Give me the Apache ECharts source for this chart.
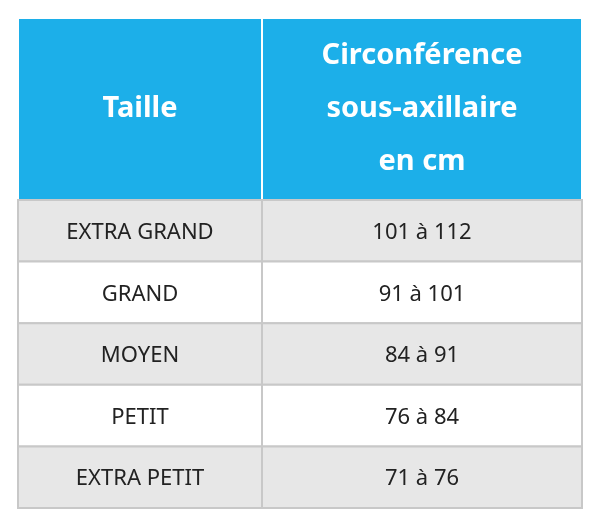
<!DOCTYPE html>
<html><head><meta charset="utf-8">
<script src="https://cdn.jsdelivr.net/npm/echarts@6/dist/echarts.min.js"></script>
<style>html,body{margin:0;padding:0;background:#fff}#c{width:600px;height:517px}</style>
</head><body><div id="c"></div>
<script>
const headers = ['Taille', 'Circonférence\nsous-axillaire\nen cm'];
const sizes = ['EXTRA GRAND', 'GRAND', 'MOYEN', 'PETIT', 'EXTRA PETIT'];
const ranges = ['101 à 112', '91 à 101', '84 à 91', '76 à 84', '71 à 76'];

const L = 18, R = 582, T = 18, HB = 200, B = 508, CX = 262;
const rowH = (B - HB) / sizes.length;
const chart = echarts.init(document.getElementById('c'));
const data = [[headers[0], headers[1]]].concat(sizes.map((s, i) => [s, ranges[i]]));
chart.setOption({
  animation: false,
  series: [{
    type: 'custom',
    coordinateSystem: 'none',
    data: data.map((d, i) => [i]),
    renderItem: function (params, api) {
      const i = api.value(0);
      const row = data[i];
      const isH = i === 0;
      const y0 = isH ? T : HB + (i - 1) * rowH;
      const h = isH ? HB - T : rowH;
      const fill = isH ? '#1CAFE9' : ((i % 2 === 1) ? '#E7E7E7' : '#FFFFFF');
      const font = isH ? 'bold 29px "Noto Sans"' : '22px "Noto Sans"';
      const color = isH ? '#FFFFFF' : '#222222';
      const stroke = isH ? '#FFFFFF' : '#C8C8C8';
      const children = [
        {type: 'rect', shape: {x: L, y: y0, width: CX - L, height: h}, style: {fill: fill, stroke: stroke, lineWidth: 2}},
        {type: 'rect', shape: {x: CX, y: y0, width: R - CX, height: h}, style: {fill: fill, stroke: stroke, lineWidth: 2}},
        {type: 'text', style: {text: row[0], x: (L + CX) / 2, y: y0 + h / 2 + (isH ? 0 : 2), align: 'center', verticalAlign: 'middle', font: font, fill: color}},
        {type: 'text', style: {text: row[1], x: (CX + R) / 2, y: y0 + h / 2 + (isH ? 0 : 2), align: 'center', verticalAlign: 'middle', font: font, fill: color, lineHeight: 53}}
      ];
      return {type: 'group', children: children};
    }
  }]
});
</script></body></html>
